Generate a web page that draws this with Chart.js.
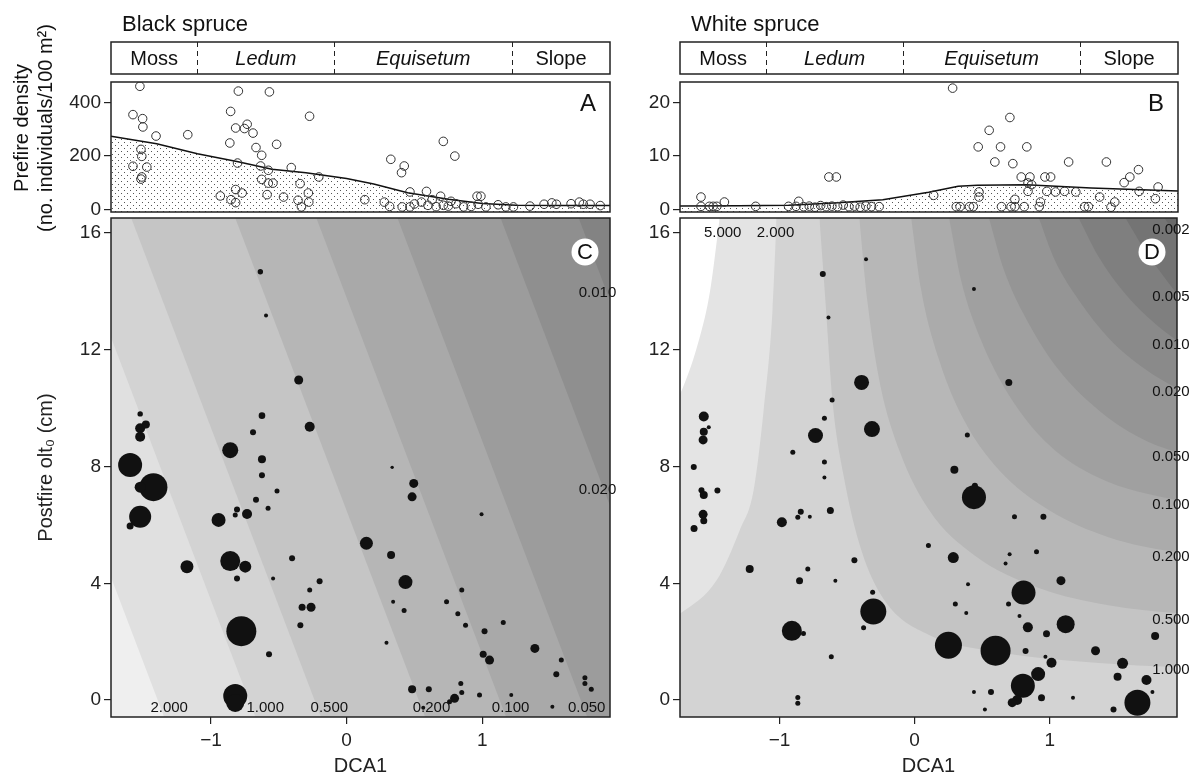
<!DOCTYPE html>
<html>
<head>
<meta charset="utf-8">
<script src="https://cdn.jsdelivr.net/npm/chart.js@4/dist/chart.umd.min.js"></script>
<style>
  html, body { margin: 0; padding: 0; background: #fff; }
  #wrap { position: relative; width: 1192px; height: 780px; overflow: hidden; }
  #wrap canvas { position: absolute; left: 0; top: 0; }
</style>
</head>
<body>
<div id="wrap">
  <canvas id="chartA" width="1192" height="780"></canvas>
  <canvas id="chartB" width="1192" height="780"></canvas>
  <canvas id="chartC" width="1192" height="780"></canvas>
  <canvas id="chartD" width="1192" height="780"></canvas>
</div>
<script>
// axis ranges and ticks
const dcaMin = -1.737, dcaMax = 1.942;
const oltMin = -0.58, oltMax = 16.51;
const dcaTicks = [-1, 0, 1];
const oltTicks = [0, 4, 8, 12, 16];
const densTicksA = [0, 200, 400];
const densTicksB = [0, 10, 20];

// vegetation strip along DCA1
const stripBreaks = [-1.10, -0.09, 1.22];
const stripNames = ['Moss', 'Ledum', 'Equisetum', 'Slope'];
const stripItalic = [false, true, true, false];

// A: black spruce prefire density
const aDca = [-1.524, -1.575, -1.504, -1.502, -1.405, -1.171, -1.516, -1.510, -1.575, -1.473, -1.510, -1.516,
  -0.798, -0.569, -0.855, -0.818, -0.733, -0.753, -0.690, -0.273, -0.861, -0.516, -0.668, -0.626, -0.804,
  -0.634, -0.577, -0.408, -0.626, -0.577, -0.543, -0.205, -0.343, -0.818, -0.770, -0.931, -0.852, -0.818,
  -0.586, -0.465, -0.282, -0.358, -0.279, -0.333, 0.326, 0.425, 0.405, 0.713, 0.798, 0.467, 0.589, 0.134,
  0.278, 0.317, 0.410, 0.467, 0.552, 0.631, 0.693, 0.713, 0.750, 0.806, 0.863, 0.919, 0.962, 0.990, 0.970,
  1.027, 1.117, 1.174, 1.230, 1.352, 1.456, 1.513, 1.547, 1.655, 1.716, 1.745, 1.795, 0.60, 0.66, 0.77, 0.50, 1.87];
const aDens = [460, 354, 339, 308, 274, 279, 224, 198, 161, 158, 121, 113,
  442, 439, 366, 304, 318, 302, 285, 348, 248, 243, 231, 202, 173,
  162, 146, 156, 112, 98, 98, 121, 96, 74, 61, 50, 36, 25,
  55, 46, 61, 34, 27, 9, 187, 162, 137, 254, 199, 65, 67, 36,
  27, 11, 9, 9, 27, 36, 49, 15, 12, 21, 9, 11, 49, 49, 19,
  9, 17, 9, 9, 12, 19, 24, 19, 21, 27, 19, 19, 15, 10, 30, 20, 14];
const aFitDca = [-1.737, -1.40, -1.10, -0.80, -0.55, -0.30, 0.0, 0.20, 0.45, 0.75, 1.00, 1.25, 1.60, 1.942];
const aFitDens = [273, 245, 208, 178, 150, 137, 115, 95, 62, 38, 22, 15, 14, 14];

// B: white spruce prefire density
const bDca = [-1.582, -1.582, -1.520, -1.492, -1.465, -1.409, -1.178, -0.935, -0.860, -0.880,
  -0.824, -0.782, -0.740, -0.698, -0.657, -0.615, -0.573, -0.531, -0.489, -0.447, -0.406, -0.364, -0.322, -0.266,
  -0.637, -0.582, 0.137, 0.277, 0.466, 0.547, 0.589, 0.631, 0.700, 0.722, 0.825, 0.784, 0.848, 0.834, 0.861,
  0.834, 0.472, 0.472, 0.737, 0.926, 0.959, 1.001, 0.973, 1.037, 1.104, 1.134, 1.187, 1.363, 1.413, 1.475,
  1.544, 1.586, 1.650, 1.655, 1.775, 1.795,
  0.304, 0.332, 0.402, 0.430, 0.638, 0.709, 0.737, 0.806, 0.917, 1.252, 1.280, 1.447];
const bDens = [2.3, 0.56, 0.56, 0.56, 0.56, 1.37, 0.56, 0.56, 1.5, 0.56,
  0.5, 0.6, 0.4, 0.7, 0.5, 0.6, 0.5, 0.8, 0.5, 0.6, 0.4, 0.6, 0.5, 0.5,
  6.06, 6.06, 2.62, 22.7, 11.7, 14.8, 8.87, 11.7, 17.2, 8.56, 11.7, 6.06, 6.06, 4.94, 4.62,
  3.37, 3.25, 2.31, 1.87, 1.37, 6.06, 6.06, 3.37, 3.25, 3.37, 8.87, 3.25, 2.31, 8.87, 1.37,
  5.0, 6.06, 7.43, 3.37, 1.99, 4.18,
  0.5, 0.5, 0.5, 0.5, 0.5, 0.5, 0.5, 0.5, 0.5, 0.5, 0.5, 0.4];
const bFitDca = [-1.737, -1.3, -0.935, -0.6, -0.239, 0.1, 0.318, 0.46, 0.82, 1.3, 1.942];
const bFitDens = [0.62, 0.66, 0.75, 1.2, 1.81, 3.2, 4.31, 4.5, 4.62, 4.0, 3.44];

// C: black spruce postfire, bubbles
const cDca = [-0.636, -0.594, -0.353, -0.624, -0.272, -0.690, -0.858, -0.624, -0.624, -0.513, -0.668, 0.336,
  -1.522, -1.522, -1.480, -1.522, -1.596, -1.424, -1.522, -1.522, -1.596, -0.944, -0.808, -0.821, -0.734,
  -0.579, -1.177, -0.858, -0.747, -0.808, -0.542, -0.402, -0.272, -0.199, -0.328, -0.262, -0.341, -0.776,
  -0.572, -0.821, -0.821, 0.146, 0.328, 0.434, 0.343, 0.294, 0.495, 0.483, 0.995, 0.424, 0.849, 0.737, 0.820,
  0.877, 1.155, 1.017, 1.388, 1.007, 1.054, 1.583, 1.546, 1.757, 1.757, 1.804, 0.483, 0.606, 0.842, 0.849,
  0.796, 0.759, 0.565, 0.980, 1.214, 1.517];
const cOlt = [14.67, 13.17, 10.96, 9.74, 9.36, 9.17, 8.56, 8.25, 7.70, 7.16, 6.86, 7.97,
  9.80, 9.31, 9.44, 9.02, 8.05, 7.29, 7.29, 6.28, 5.96, 6.17, 6.53, 6.34, 6.37,
  6.57, 4.57, 4.76, 4.57, 4.16, 4.16, 4.86, 3.77, 4.07, 3.18, 3.18, 2.56, 2.36,
  1.57, 0.14, -0.10, 5.37, 4.97, 4.04, 3.37, 1.96, 7.42, 6.96, 6.36, 3.07, 3.77, 3.37, 2.96,
  2.56, 2.66, 2.36, 1.77, 1.57, 1.37, 1.37, 0.88, 0.76, 0.57, 0.37, 0.37, 0.37, 0.57, 0.26,
  0.06, -0.06, -0.26, 0.17, 0.17, -0.23];
const cSize = [2.7, 2, 4.5, 3.3, 5, 3, 8, 4, 3, 2.5, 3, 1.7,
  2.7, 5, 4, 5, 12, 14, 5.5, 11, 3.5, 7, 3, 2.5, 5,
  2.5, 6.5, 10, 6, 3, 2, 3, 2.5, 3, 3.5, 4.5, 3, 15,
  3, 12, 9, 6.5, 4, 7, 2, 2, 4.5, 4.5, 2, 2.5, 2.5, 2.5, 2.5,
  2.5, 2.5, 3, 4.5, 3.5, 4.5, 2.5, 3, 2.5, 2.5, 2.5, 4, 3, 2.5, 2.5,
  4.5, 2.5, 2, 2.5, 2, 2];
// C contour lines (straight): DCA1 where each line meets the top and the bottom of the panel
const cLevels = ['2.000', '1.000', '0.500', '0.200', '0.100', '0.050', '0.020', '0.010'];
const cTopDca = [-2.744, -2.072, -1.588, -0.821, -0.223, 0.375, 1.135, 1.711];
const cBotDca = [-1.345, -0.673, -0.189, 0.579, 1.176, 1.774, 2.534, 3.110];
const cBandColors = ['#efefef', '#e0e0e0', '#d3d3d3', '#c5c5c5', '#b6b6b6', '#a9a9a9', '#9c9c9c', '#8f8f8f', '#838383'];
const cLabelText = ['2.000', '1.000', '0.500', '0.200', '0.100', '0.050', '0.020', '0.010'];
const cLabelDca = [-1.308, -0.600, -0.127, 0.626, 1.209, 1.770, 1.850, 1.850];
const cLabelOlt = [-0.27, -0.27, -0.27, -0.27, -0.27, -0.27, 7.19, 13.94];

// D: white spruce postfire, bubbles
const dDca = [-0.360, -0.680, -0.638, -0.393, -0.611, -0.668, -0.316, -0.734, -0.902, -0.668, -0.668,
  -1.561, -1.524, -1.561, -1.566, -1.635, -1.578, -1.561, -1.460, -1.566, -1.561, -1.633, -0.983, -0.865,
  -0.843, -0.776, -0.624, -1.221, -0.791, -0.852, -0.587, -0.446, -0.311, -0.306, -0.378, -0.909, -0.823,
  -0.617, -0.865, -0.865, 0.439, 0.697, 0.390, 0.294, 0.446, 0.439, 0.739, 0.953, 0.102, 0.286, 0.703,
  0.673, 0.902, 0.395, 1.083, 0.806, 0.301, 0.695, 0.382, 0.776, 0.838, 1.118, 0.976, 1.780, 0.250, 0.599,
  0.821, 1.339, 0.968, 1.013, 1.539, 1.502, 0.914, 0.801, 1.716, 1.760, 0.439, 0.565, 0.759, 0.722, 0.939,
  1.172, 0.520, 1.472, 1.649];
const dOlt = [15.10, 14.59, 13.10, 10.88, 10.28, 9.65, 9.28, 9.06, 8.49, 8.15, 7.62,
  9.71, 9.34, 9.19, 8.91, 7.98, 7.19, 7.02, 7.18, 6.36, 6.14, 5.88, 6.09, 6.26,
  6.45, 6.28, 6.49, 4.49, 4.49, 4.09, 4.09, 4.79, 3.69, 3.03, 2.48, 2.37, 2.28,
  1.48, 0.09, -0.11, 14.08, 10.88, 9.08, 7.89, 7.34, 6.95, 6.28, 6.28, 5.29, 4.88, 4.99,
  4.68, 5.08, 3.97, 4.09, 3.68, 3.29, 3.29, 2.98, 2.88, 2.49, 2.60, 2.27, 2.19, 1.88, 1.69,
  1.68, 1.69, 1.48, 1.28, 1.26, 0.80, 0.89, 0.49, 0.69, 0.28, 0.28, 0.28, 0.00, -0.09, 0.08,
  0.08, -0.32, -0.32, -0.09];
const dSize = [2, 3, 2, 7.5, 2.5, 2.5, 8, 7.5, 2.5, 2.5, 2,
  5, 2, 4, 4.5, 3, 3, 4, 3, 4.5, 3.5, 3.5, 5, 2.5,
  3, 2, 3.5, 4, 2.5, 3.5, 2, 3, 2.5, 13, 2.5, 10, 2.5,
  2.5, 2.5, 2.5, 2, 3.5, 2.5, 4, 3, 12, 2.5, 3, 2.5, 5.5, 2,
  2, 2.5, 2, 4.5, 12, 2.5, 2.5, 2, 2, 5, 9, 3.5, 4, 13.5, 15,
  3, 4.5, 2, 5, 5.5, 4, 7, 12, 5, 2, 2, 3, 5, 4.5, 3.5,
  2, 2, 3, 13];
// D contour curves, listed in drawing order (each filled towards the top of the panel)
const dLevels = ['2.000', '5.000', '1.000', '0.500', '0.200', '0.100', '0.050', '0.020', '0.010', '0.005', '0.002'];
const dCurveDca = [
  [-1.812, -1.723, -1.465, -1.295, -1.192, -1.118, -1.052, -1.022],
  [-1.812, -1.723, -1.590, -1.517, -1.443],
  [-0.705, -0.661, -0.609, -0.520, -0.395, -0.225, 0.107, 0.624, 1.362, 1.937, 2.100],
  [-0.410, -0.351, -0.262, -0.114, 0.107, 0.439, 0.919, 1.435, 1.937, 2.100],
  [-0.026, 0.048, 0.181, 0.365, 0.624, 0.993, 1.435, 1.937, 2.100],
  [0.255, 0.343, 0.491, 0.697, 0.993, 1.362, 1.937, 2.100],
  [0.550, 0.661, 0.830, 1.066, 1.362, 1.657, 1.937, 2.100],
  [0.919, 1.037, 1.214, 1.435, 1.694, 1.937, 2.100],
  [1.214, 1.362, 1.546, 1.731, 1.937, 2.100],
  [1.561, 1.694, 1.819, 1.937, 2.100],
  [1.849, 1.937, 2.100]
];
const dCurveOlt = [
  [2.81, 3.01, 4.11, 5.82, 7.19, 9.93, 13.36, 16.51],
  [9.93, 10.62, 12.44, 13.94, 16.51],
  [16.51, 13.70, 10.28, 7.54, 5.14, 3.43, 2.23, 1.64, 1.27, 1.13, 1.10],
  [16.51, 13.70, 10.96, 8.56, 6.51, 4.97, 3.84, 3.25, 2.98, 2.95],
  [16.51, 14.05, 11.65, 9.59, 7.88, 6.51, 5.58, 5.07, 5.00],
  [16.51, 14.39, 12.33, 10.45, 8.74, 7.61, 6.85, 6.75],
  [16.51, 14.73, 13.02, 11.31, 9.93, 9.01, 8.50, 8.39],
  [16.51, 15.07, 13.70, 12.40, 11.37, 10.69, 10.35],
  [16.51, 15.18, 13.98, 13.09, 12.33, 11.92],
  [16.51, 15.48, 14.66, 13.94, 13.02],
  [16.51, 15.93, 15.07]
];
const dBaseColor = '#d3d3d3';
const dBandColors = ['#e4e4e4', '#ffffff', '#c4c4c4', '#b7b7b7', '#ababab', '#a0a0a0', '#959595', '#8a8a8a', '#7f7f7f', '#747474', '#6a6a6a'];
const dLabelText = ['5.000', '2.000', '1.000', '0.500', '0.200', '0.100', '0.050', '0.020', '0.010', '0.005', '0.002'];
const dLabelDca = [-1.421, -1.030, 1.897, 1.897, 1.897, 1.897, 1.897, 1.897, 1.897, 1.897, 1.897];
const dLabelOlt = [16.0, 16.0, 1.03, 2.74, 4.90, 6.68, 8.32, 10.55, 12.16, 13.81, 16.10];

const FONT = "'Liberation Sans', Arial, Helvetica, sans-serif";
Chart.defaults.font.family = FONT;
Chart.defaults.color = '#222';

function fixedTicks(values) {
  return scale => { scale.ticks = values.map(v => ({ value: v })); };
}
function minusFmt(v) {
  return v < 0 ? '\u2212' + Math.abs(v) : String(v);
}

function dotPattern() {
  const c = document.createElement('canvas');
  c.width = 6; c.height = 6;
  const g = c.getContext('2d');
  g.fillStyle = '#555';
  g.fillRect(1, 1, 1, 1);
  g.fillRect(4, 4, 1, 1);
  return g.createPattern(c, 'repeat');
}

const tickGrid = { drawOnChartArea: false, drawTicks: true, tickLength: 7, color: '#222', lineWidth: 1.2 };

function yAxis(min, max, ticks, title) {
  return {
    type: 'linear', min, max,
    afterBuildTicks: fixedTicks(ticks),
    afterFit: s => { s.width = 111; },
    grid: tickGrid,
    border: { display: false },
    ticks: { font: { size: 19 }, color: '#222', padding: 3 },
    title: title ? { display: true, text: title, font: { size: 20 }, color: '#222', padding: { top: 34, bottom: 0 } } : { display: false }
  };
}

function xAxisBottom() {
  return {
    type: 'linear', min: dcaMin, max: dcaMax,
    afterBuildTicks: fixedTicks(dcaTicks),
    afterFit: s => { s.height = 63; },
    grid: tickGrid,
    border: { display: false },
    ticks: { font: { size: 19 }, color: '#222', padding: 5, callback: minusFmt, maxRotation: 0 },
    title: { display: true, text: 'DCA1', font: { size: 20 }, color: '#222', padding: { top: 0, bottom: 2 } }
  };
}

// panel decorations: background, frame, strip, titles, contour labels, panel letter
const decor = {
  id: 'decor',
  beforeDatasetsDraw(chart, args, o) {
    const { ctx, chartArea: a } = chart;
    ctx.save();
    ctx.fillStyle = o.bg || '#fff';
    ctx.fillRect(a.left, a.top, a.right - a.left, a.bottom - a.top);
    ctx.restore();
  },
  beforeDatasetDraw(chart, args, o) {
    if (!o.labels || args.meta.type !== 'bubble') return;
    const { ctx } = chart;
    const xs = chart.scales.x, ys = chart.scales.y;
    ctx.save();
    ctx.font = '15px ' + FONT;
    ctx.fillStyle = '#111';
    ctx.textAlign = 'center';
    ctx.textBaseline = 'middle';
    o.labels.text.forEach((t, i) => {
      ctx.fillText(t, xs.getPixelForValue(o.labels.x[i]), ys.getPixelForValue(o.labels.y[i]));
    });
    ctx.restore();
  },
  afterDraw(chart, args, o) {
    const { ctx, chartArea: a } = chart;
    const xs = chart.scales.x;
    ctx.save();
    ctx.strokeStyle = '#222';
    ctx.lineWidth = 1.5;
    ctx.strokeRect(a.left, a.top, a.right - a.left, a.bottom - a.top);

    if (o.strip) {
      const top = 42, bot = 74;
      ctx.strokeRect(a.left, top, a.right - a.left, bot - top);
      ctx.lineWidth = 1;
      ctx.setLineDash([5, 4]);
      stripBreaks.forEach(b => {
        const x = Math.round(xs.getPixelForValue(b)) + 0.5;
        ctx.beginPath(); ctx.moveTo(x, top); ctx.lineTo(x, bot); ctx.stroke();
      });
      ctx.setLineDash([]);
      const edges = [dcaMin].concat(stripBreaks, [dcaMax]);
      ctx.fillStyle = '#111';
      ctx.textAlign = 'center';
      ctx.textBaseline = 'middle';
      stripNames.forEach((n, i) => {
        ctx.font = (stripItalic[i] ? 'italic ' : '') + '20px ' + FONT;
        const cx = xs.getPixelForValue((edges[i] + edges[i + 1]) / 2);
        ctx.fillText(n, cx, (top + bot) / 2 + 1);
      });
    }
    if (o.title) {
      ctx.font = '22px ' + FONT;
      ctx.fillStyle = '#111';
      ctx.textAlign = 'left';
      ctx.textBaseline = 'alphabetic';
      ctx.fillText(o.title, a.left + 11, 31);
    }
    if (o.yTitle) {
      ctx.font = '20px ' + FONT;
      ctx.fillStyle = '#111';
      ctx.textAlign = 'center';
      ctx.textBaseline = 'middle';
      o.yTitle.forEach((t, i) => {
        ctx.save();
        ctx.translate(22 + i * 24, 128);
        ctx.rotate(-Math.PI / 2);
        ctx.fillText(t, 0, 0);
        ctx.restore();
      });
    }
    if (o.letter) {
      ctx.font = '24px ' + FONT;
      ctx.fillStyle = '#111';
      ctx.textAlign = 'center';
      ctx.textBaseline = 'middle';
      ctx.fillText(o.letter, a.right - 22, a.top + 22);
    }
    if (o.circleLetter) {
      const cx = a.right - 25, cy = a.top + 34;
      ctx.fillStyle = '#fff';
      ctx.beginPath(); ctx.arc(cx, cy, 13.5, 0, Math.PI * 2); ctx.fill();
      ctx.font = '22px ' + FONT;
      ctx.fillStyle = '#111';
      ctx.textAlign = 'center';
      ctx.textBaseline = 'middle';
      ctx.fillText(o.circleLetter, cx, cy + 1);
    }
    ctx.restore();
  }
};

const common = {
  responsive: false, animation: false, events: []
};

function densityChart(id, pad, yMax, yMinV, ticks, pts, fitX, fitY, deco) {
  return new Chart(document.getElementById(id), {
    type: 'scatter',
    data: {
      datasets: [{
        data: pts,
        pointRadius: 4.3,
        pointBorderWidth: 1,
        pointBorderColor: '#333',
        pointBackgroundColor: 'rgba(0,0,0,0)',
        order: 0
      }, {
        type: 'line',
        data: fitX.map((x, i) => ({ x, y: fitY[i] })),
        borderColor: '#111',
        borderWidth: 1.5,
        pointRadius: 0,
        fill: 'start',
        backgroundColor: dotPattern(),
        order: 1
      }]
    },
    options: Object.assign({}, common, {
      layout: { padding: pad },
      scales: {
        x: { type: 'linear', min: dcaMin, max: dcaMax, display: false },
        y: yAxis(yMinV, yMax, ticks)
      },
      plugins: { legend: { display: false }, tooltip: { enabled: false }, decor: deco }
    }),
    plugins: [decor]
  });
}

densityChart('chartA', { left: 0, top: 82, right: 582, bottom: 568 }, 476, -10, densTicksA,
  aDca.map((x, i) => ({ x, y: aDens[i] })), aFitDca, aFitDens,
  { title: 'Black spruce', strip: true, letter: 'A', yTitle: ['Prefire density', '(no. individuals/100 m\u00b2)'] });

densityChart('chartB', { left: 569, top: 82, right: 14, bottom: 568 }, 23.85, -0.5, densTicksB,
  bDca.map((x, i) => ({ x, y: bDens[i] })), bFitDca, bFitDens,
  { title: 'White spruce', strip: true, letter: 'B' });

function contourDataset(points, color, order, smooth) {
  return {
    type: 'line',
    data: points,
    borderColor: 'rgba(0,0,0,0)',
    borderWidth: 1,
    pointRadius: 0,
    fill: 'end',
    backgroundColor: color,
    cubicInterpolationMode: smooth ? 'monotone' : 'default',
    tension: 0,
    order
  };
}

function bubbleDataset(xs, ys, rs) {
  return {
    type: 'bubble',
    data: xs.map((x, i) => ({ x, y: ys[i], r: rs[i] })),
    backgroundColor: '#111',
    borderColor: '#111',
    borderWidth: 0,
    order: 0
  };
}

new Chart(document.getElementById('chartC'), {
  type: 'bubble',
  data: {
    datasets: [bubbleDataset(cDca, cOlt, cSize)].concat(cLevels.map((lev, i) => contourDataset(
      [{ x: cTopDca[i], y: oltMax }, { x: cBotDca[i], y: oltMin }, { x: 4, y: oltMin }],
      cBandColors[i + 1], 100 - i, false)))
  },
  options: Object.assign({}, common, {
    layout: { padding: { left: 0, top: 218, right: 582, bottom: 0 } },
    scales: {
      x: xAxisBottom(),
      y: yAxis(oltMin, oltMax, oltTicks, 'Postfire olt\u2080 (cm)')
    },
    plugins: {
      legend: { display: false }, tooltip: { enabled: false },
      decor: { bg: cBandColors[0], circleLetter: 'C', labels: { text: cLabelText, x: cLabelDca, y: cLabelOlt } }
    }
  }),
  plugins: [decor]
});

new Chart(document.getElementById('chartD'), {
  type: 'bubble',
  data: {
    datasets: [bubbleDataset(dDca, dOlt, dSize)].concat(dLevels.map((lev, i) => contourDataset(
      dCurveDca[i].map((x, j) => ({ x, y: dCurveOlt[i][j] })),
      dBandColors[i], 100 - i, true)))
  },
  options: Object.assign({}, common, {
    layout: { padding: { left: 569, top: 218, right: 14, bottom: 0 } },
    scales: {
      x: xAxisBottom(),
      y: yAxis(oltMin, oltMax, oltTicks)
    },
    plugins: {
      legend: { display: false }, tooltip: { enabled: false },
      decor: { bg: dBaseColor, circleLetter: 'D', labels: { text: dLabelText, x: dLabelDca, y: dLabelOlt } }
    }
  }),
  plugins: [decor]
});
</script>
</body>
</html>
